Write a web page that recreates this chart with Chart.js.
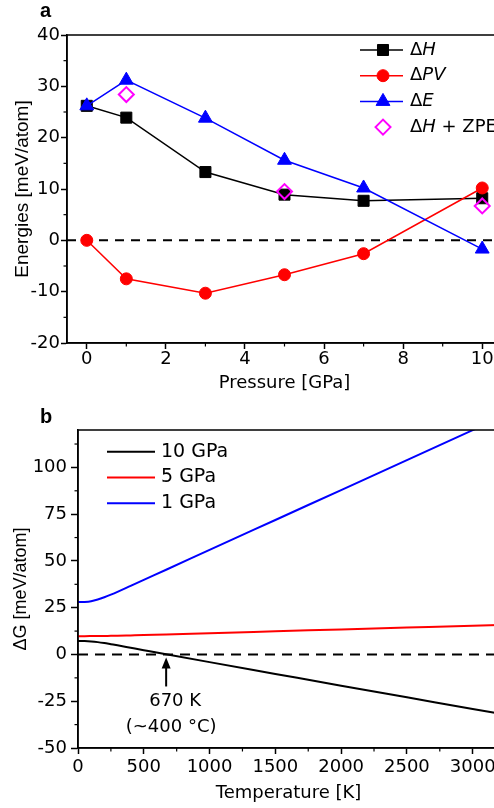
<!DOCTYPE html>
<html><head><meta charset="utf-8">
<script src="https://cdn.jsdelivr.net/npm/chart.js@4"></script>
<style>
html,body{margin:0;padding:0;background:#fff;overflow:hidden;width:494px;height:808px;}
#wrap{position:relative;width:494px;height:808px;overflow:hidden;background:#fff;}
canvas{position:absolute;left:0;}
.lbl{position:absolute;font:bold 20px "Liberation Sans",Arial,sans-serif;color:#000;line-height:22px;}
</style></head><body>
<div id="wrap">
<canvas id="ca" width="520" height="400" style="top:0;width:520px;height:400px"></canvas>
<canvas id="cb" width="520" height="408" style="top:400px;width:520px;height:408px"></canvas>
<div class="lbl" style="left:40px;top:-1px">a</div>
<div class="lbl" style="left:40px;top:405px">b</div>
</div>
<script>
// ---------- data: panel a ----------
const pressure = [0, 1, 3, 5, 7, 10];
const dH  = [26.2, 23.9, 13.3, 8.9, 7.7, 8.2];
const dPV = [0, -7.5, -10.3, -6.7, -2.6, 10.2];
const dE  = [26.2, 31.2, 23.8, 15.6, 10.2, -1.7];
const zpePressure = [1, 5, 10];
const dHzpe = [28.4, 9.5, 6.7];
const xTicksA = [0, 2, 4, 6, 8, 10];
const yTicksA = [-20, -10, 0, 10, 20, 30, 40];
const xMinorA = [1, 3, 5, 7, 9];
const yMinorA = [-15, -5, 5, 15, 25, 35];

// ---------- data: panel b ----------
const temps = [0, 50, 100, 150, 200, 250, 300, 400, 500, 670, 1000, 1500, 2000, 2500, 3000, 3200];
const g10 = [7.2, 7.15, 6.95, 6.6, 6.1, 5.5, 4.9, 3.6, 2.3, 0.1, -4.1, -10.4, -16.7, -22.9, -29.2, -31.6];
const g5  = [9.8, 9.8, 9.82, 9.85, 9.9, 9.95, 10.0, 10.2, 10.4, 10.7, 11.4, 12.4, 13.4, 14.4, 15.4, 15.7];
const g1  = [28.0, 28.1, 28.5, 29.4, 30.6, 32.0, 33.5, 36.7, 39.9, 45.3, 55.9, 71.9, 87.9, 103.9, 119.9, 126.3];
const xTicksB = [0, 500, 1000, 1500, 2000, 2500, 3000];
const yTicksB = [-50, -25, 0, 25, 50, 75, 100];
const xMinorB = [250, 750, 1250, 1750, 2250, 2750];
const yMinorB = [-37.5, -12.5, 12.5, 37.5, 62.5, 87.5, 112.5];
const crossT = 670;
const crossText = ['670 K', '(~400 °C)'];

const FONT_H = '"DejaVu Sans", sans-serif';
const FONT_V = '"Liberation Sans", Arial, sans-serif';

function drawMarker(ctx, style, x, y, r, color, filled) {
  ctx.save();
  ctx.beginPath();
  if (style === 'rect') {
    const s = r * Math.SQRT1_2; ctx.rect(x - s, y - s, 2 * s, 2 * s);
  } else if (style === 'circle') {
    ctx.arc(x, y, r, 0, Math.PI * 2);
  } else if (style === 'triangle') {
    let a = 0;
    ctx.moveTo(x + Math.sin(a) * r, y - Math.cos(a) * r);
    a += 2 * Math.PI / 3; ctx.lineTo(x + Math.sin(a) * r, y - Math.cos(a) * r);
    a += 2 * Math.PI / 3; ctx.lineTo(x + Math.sin(a) * r, y - Math.cos(a) * r);
    ctx.closePath();
  } else if (style === 'rectRot') {
    ctx.moveTo(x - r, y); ctx.lineTo(x, y - r); ctx.lineTo(x + r, y); ctx.lineTo(x, y + r); ctx.closePath();
  }
  if (filled) { ctx.fillStyle = color; ctx.fill(); ctx.lineWidth = 1; } else { ctx.lineWidth = 2; }
  ctx.strokeStyle = color; ctx.stroke();
  ctx.restore();
}

function framePlugin() {
  return { id: 'frame', afterDatasetsDraw(chart) {
    const { ctx, chartArea: a } = chart;
    ctx.save(); ctx.strokeStyle = '#000'; ctx.lineWidth = 1.5;
    ctx.strokeRect(a.left, a.top, a.right - a.left, a.bottom - a.top);
    ctx.restore();
  }};
}
function minorPlugin(map) {
  return { id: 'minor', afterDraw(chart) {
    const ctx = chart.ctx; ctx.save(); ctx.strokeStyle = '#000'; ctx.lineWidth = 1.2;
    Object.keys(map).forEach(id => {
      const s = chart.scales[id];
      map[id].forEach(v => {
        const p = s.getPixelForValue(v);
        ctx.beginPath();
        if (s.isHorizontal()) { ctx.moveTo(p, s.top); ctx.lineTo(p, s.top + 3.5); }
        else { ctx.moveTo(s.right, p); ctx.lineTo(s.right - 3.5, p); }
        ctx.stroke();
      });
    });
    ctx.restore();
  }};
}
function zeroPlugin(dash) {
  return { id: 'zero', beforeDatasetsDraw(chart) {
    const { ctx, chartArea: a, scales } = chart;
    const p = scales.y.getPixelForValue(0);
    ctx.save(); ctx.setLineDash(dash); ctx.lineWidth = 2; ctx.strokeStyle = '#000';
    ctx.beginPath(); ctx.moveTo(a.left, p); ctx.lineTo(a.right, p); ctx.stroke();
    ctx.restore();
  }};
}

// ---------- panel a ----------
const legendItemsA = [
  { text: [['Δ', 'normal'], ['H', 'italic']], color: '#000000', style: 'rect', r: 7.8, filled: true, line: true },
  { text: [['Δ', 'normal'], ['PV', 'italic']], color: '#ff0000', style: 'circle', r: 6, filled: true, line: true },
  { text: [['Δ', 'normal'], ['E', 'italic']], color: '#0000ff', style: 'triangle', r: 8, filled: true, line: true },
  { text: [['Δ', 'normal'], ['H', 'italic'], [' + ZPE', 'normal']], color: '#ff00ff', style: 'rectRot', r: 7.5, filled: false, line: false }
];
const legendA = { id: 'legA', afterDraw(chart) {
  const ctx = chart.ctx; ctx.save();
  legendItemsA.forEach((it, i) => {
    const y = 50 + i * 25.7;
    if (it.line) { ctx.strokeStyle = it.color; ctx.lineWidth = 1.5; ctx.beginPath(); ctx.moveTo(360, y); ctx.lineTo(403, y); ctx.stroke(); }
    drawMarker(ctx, it.style, 383, y, it.r, it.color, it.filled);
    let x = 410; ctx.fillStyle = '#000'; ctx.textBaseline = 'middle'; ctx.textAlign = 'left';
    it.text.forEach(([t, st]) => { ctx.font = st + ' 18px ' + FONT_H; ctx.fillText(t, x, y); x += ctx.measureText(t).width; });
  });
  ctx.restore();
}};

function ds(xs, ys, color, style, r, filled, line, order) {
  return {
    data: xs.map((x, i) => ({ x: x, y: ys[i] })),
    showLine: line, borderColor: color, backgroundColor: filled ? color : 'rgba(0,0,0,0)',
    borderWidth: 1.5, pointStyle: style, pointRadius: r, pointHoverRadius: r,
    pointBorderColor: color, pointBackgroundColor: filled ? color : 'rgba(0,0,0,0)',
    pointBorderWidth: filled ? 1 : 2, order: order, tension: 0
  };
}

new Chart(document.getElementById('ca'), {
  type: 'scatter',
  data: { datasets: [
    ds(pressure, dH, '#000000', 'rect', 7.8, true, true, 3),
    ds(pressure, dPV, '#ff0000', 'circle', 6, true, true, 2),
    ds(pressure, dE, '#0000ff', 'triangle', 8, true, true, 1),
    ds(zpePressure, dHzpe, '#ff00ff', 'rectRot', 7.5, false, false, 0)
  ]},
  options: {
    responsive: false, animation: false, events: [],
    layout: { padding: { top: 35, right: 18, left: 0, bottom: 0 } },
    plugins: { legend: { display: false }, tooltip: { enabled: false } },
    scales: {
      x: {
        type: 'linear', min: -0.5, max: 10.5,
        afterBuildTicks: s => { s.ticks = xTicksA.map(v => ({ value: v })); },
        afterFit: s => { s.height = 57; },
        grid: { drawOnChartArea: false, drawTicks: true, tickLength: 6, tickWidth: 1.5, tickColor: '#000' },
        border: { display: true, color: '#000', width: 1.5 },
        ticks: { padding: 0, color: '#000', font: { family: FONT_H, size: 18 }, maxRotation: 0, autoSkip: false, callback: v => String(v) },
        title: { display: true, text: 'Pressure [GPa]', color: '#000', font: { family: FONT_H, size: 18 }, padding: { top: 0, bottom: 6 } }
      },
      y: {
        type: 'linear', min: -20, max: 40,
        afterBuildTicks: s => { s.ticks = yTicksA.map(v => ({ value: v })); },
        afterFit: s => { s.width = 67; },
        grid: { drawOnChartArea: false, drawTicks: true, tickLength: 6, tickWidth: 1.5, tickColor: '#000' },
        border: { display: true, color: '#000', width: 1.5 },
        ticks: { padding: 1, color: '#000', font: { family: FONT_H, size: 18 }, callback: v => String(v) },
        title: { display: true, text: 'Energies [meV/atom]', color: '#000', font: { family: FONT_V, size: 19 }, padding: { top: 11, bottom: 0 } }
      }
    }
  },
  plugins: [zeroPlugin([9, 7]), framePlugin(), minorPlugin({ x: xMinorA, y: yMinorA }), legendA]
});

// ---------- panel b ----------
const legendItemsB = [
  { text: '10 GPa', color: '#000000' },
  { text: '5 GPa', color: '#ff0000' },
  { text: '1 GPa', color: '#0000ff' }
];
const legendB = { id: 'legB', afterDraw(chart) {
  const ctx = chart.ctx; ctx.save();
  legendItemsB.forEach((it, i) => {
    const y = 51.7 + i * 25.8;
    ctx.strokeStyle = it.color; ctx.lineWidth = 2; ctx.beginPath(); ctx.moveTo(107, y); ctx.lineTo(155, y); ctx.stroke();
    ctx.fillStyle = '#000'; ctx.textBaseline = 'middle'; ctx.textAlign = 'left';
    ctx.font = '19px ' + FONT_H; ctx.fillText(it.text, 161, y);
  });
  ctx.restore();
}};
const arrowB = { id: 'arrowB', afterDatasetsDraw(chart) {
  const { ctx, scales } = chart;
  const ax = scales.x.getPixelForValue(crossT);
  const zy = scales.y.getPixelForValue(0);
  ctx.save(); ctx.strokeStyle = '#000'; ctx.fillStyle = '#000'; ctx.lineWidth = 2;
  ctx.beginPath(); ctx.moveTo(ax, zy + 32); ctx.lineTo(ax, zy + 10); ctx.stroke();
  ctx.beginPath(); ctx.moveTo(ax, zy + 3); ctx.lineTo(ax - 4.5, zy + 14); ctx.lineTo(ax + 4.5, zy + 14); ctx.closePath(); ctx.fill();
  ctx.font = '18px ' + FONT_H; ctx.textAlign = 'center'; ctx.textBaseline = 'middle';
  ctx.fillText(crossText[0], ax + 9, zy + 47);
  ctx.fillText(crossText[1], ax + 5, zy + 73);
  ctx.restore();
}};

function lineDs(ys, color) {
  return { data: temps.map((t, i) => ({ x: t, y: ys[i] })), showLine: true, borderColor: color, backgroundColor: color,
    borderWidth: 2, pointRadius: 0, cubicInterpolationMode: 'monotone' };
}

new Chart(document.getElementById('cb'), {
  type: 'scatter',
  data: { datasets: [ lineDs(g10, '#000000'), lineDs(g5, '#ff0000'), lineDs(g1, '#0000ff') ] },
  options: {
    responsive: false, animation: false, events: [],
    layout: { padding: { top: 30, right: 21, left: 0, bottom: 0 } },
    plugins: { legend: { display: false }, tooltip: { enabled: false } },
    scales: {
      x: {
        type: 'linear', min: 0, max: 3200,
        afterBuildTicks: s => { s.ticks = xTicksB.map(v => ({ value: v })); },
        afterFit: s => { s.height = 60; },
        grid: { drawOnChartArea: false, drawTicks: true, tickLength: 6, tickWidth: 1.5, tickColor: '#000' },
        border: { display: true, color: '#000', width: 1.5 },
        ticks: { padding: 3, color: '#000', font: { family: FONT_H, size: 18 }, maxRotation: 0, autoSkip: false, callback: v => String(v) },
        title: { display: true, text: 'Temperature [K]', color: '#000', font: { family: FONT_H, size: 18 }, padding: { top: 0, bottom: 4 } }
      },
      y: {
        type: 'linear', min: -50, max: 120,
        afterBuildTicks: s => { s.ticks = yTicksB.map(v => ({ value: v })); },
        afterFit: s => { s.width = 78; },
        grid: { drawOnChartArea: false, drawTicks: true, tickLength: 7, tickWidth: 1.5, tickColor: '#000' },
        border: { display: true, color: '#000', width: 1.5 },
        ticks: { padding: 4, color: '#000', font: { family: FONT_H, size: 18 }, callback: v => String(v) },
        title: { display: true, text: 'ΔG [meV/atom]', color: '#000', font: { family: FONT_V, size: 18 }, padding: { top: 10, bottom: 0 } }
      }
    }
  },
  plugins: [zeroPlugin([10, 7]), framePlugin(), minorPlugin({ x: xMinorB, y: yMinorB }), legendB, arrowB]
});
</script>
</body></html>
